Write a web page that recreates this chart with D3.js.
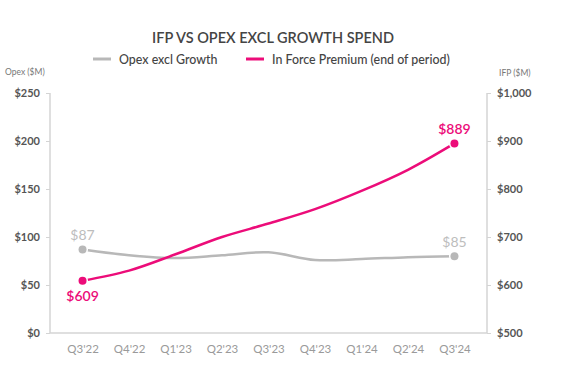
<!DOCTYPE html>
<html>
<head>
<meta charset="utf-8">
<script src="https://cdn.jsdelivr.net/npm/d3@7"></script>
<style>
	body { margin: 0; background: #fff; font-family: Lato, "Open Sans", sans-serif; }
	.axis path, .axis line { stroke: #d4d4d4; }
	.axis text { font-family: Lato, sans-serif; }
</style>
</head>
<body>
<div id="chart"></div>
<script>
'use strict';

// chart data
var quarters = ["Q3'22", "Q4'22", "Q1'23", "Q2'23", "Q3'23", "Q4'23", "Q1'24", "Q2'24", "Q3'24"];
var opex = [87, 81, 78, 81, 84, 76, 77, 79, 80];
var ifp = [609, 630, 664, 700, 728, 758, 796, 840, 895];
var opexTicks = [0, 50, 100, 150, 200, 250];
var ifpTicks = [500, 600, 700, 800, 900, 1000];
var endLabels = { opex: ["$87", "$85"], ifp: ["$609", "$889"] };

var width = 582, height = 375;
var plotLeft = 50, plotRight = 487, plotTop = 93, plotBottom = 333;
var pink = '#ec0c79', grey = '#b8b8b8';

var svg = d3.select('#chart').append('svg')
	.attr('width', width)
	.attr('height', height);

// scales
var x = d3.scalePoint().domain(quarters).range([plotLeft, plotRight]).padding(0.7);
var yOpex = d3.scaleLinear().domain([0, 250]).range([plotBottom, plotTop]);
var yIfp = d3.scaleLinear().domain([500, 1000]).range([plotBottom, plotTop]);

// title and legend
svg.append('text')
	.attr('x', 273).attr('y', 43)
	.attr('text-anchor', 'middle')
	.attr('font-size', 14.5).attr('font-weight', 600)
	.attr('fill', '#444')
	.text('IFP VS OPEX EXCL GROWTH SPEND');

var legend = [
	{ name: 'Opex excl Growth', color: grey, x: 93 },
	{ name: 'In Force Premium (end of period)', color: pink, x: 246 }
];
legend.forEach(function(d) {
	svg.append('line')
		.attr('x1', d.x).attr('x2', d.x + 18)
		.attr('y1', 59).attr('y2', 59)
		.attr('stroke', d.color).attr('stroke-width', 3);
	svg.append('text')
		.attr('x', d.x + 26).attr('y', 63.5)
		.attr('font-size', 12.4).attr('font-weight', 500)
		.attr('fill', '#444')
		.text(d.name);
});

// axis titles
svg.append('text').attr('x', 5).attr('y', 75)
	.attr('font-size', 8.5).attr('fill', '#777').text('Opex ($M)');
svg.append('text').attr('x', 499).attr('y', 76)
	.attr('font-size', 8.5).attr('fill', '#777').text('IFP ($M)');

// axes
var leftAxis = svg.append('g').attr('class', 'axis')
	.attr('transform', 'translate(' + plotLeft + ',0)')
	.call(d3.axisLeft(yOpex).tickValues(opexTicks).tickSize(4).tickPadding(6)
		.tickFormat(function(d) { return '$' + d; }));
var rightAxis = svg.append('g').attr('class', 'axis')
	.attr('transform', 'translate(' + plotRight + ',0)')
	.call(d3.axisRight(yIfp).tickValues(ifpTicks).tickSize(4).tickPadding(6)
		.tickFormat(function(d) { return '$' + d3.format(',')(d); }));
[leftAxis, rightAxis].forEach(function(g) {
	g.select('.domain').attr('d', 'M0,' + plotTop + 'V' + plotBottom).attr('stroke-width', 1.5);
	g.selectAll('text').attr('font-size', 11).attr('font-weight', 700).attr('fill', '#555');
});

var xAxis = svg.append('g').attr('class', 'axis')
	.attr('transform', 'translate(0,' + plotBottom + ')')
	.call(d3.axisBottom(x).tickSize(0).tickPadding(12));
xAxis.select('.domain').attr('d', 'M' + plotLeft + ',0H' + plotRight).attr('stroke-width', 1.5);
xAxis.selectAll('text').attr('font-size', 11.5).attr('fill', '#9a9a9a');

// lines
var opexLine = d3.line()
	.x(function(d, i) { return x(quarters[i]); })
	.y(function(d) { return yOpex(d); })
	.curve(d3.curveCatmullRom.alpha(0.5));
var ifpLine = d3.line()
	.x(function(d, i) { return x(quarters[i]); })
	.y(function(d) { return yIfp(d); })
	.curve(d3.curveCatmullRom.alpha(0.5));

svg.append('path').datum(opex)
	.attr('d', opexLine)
	.attr('fill', 'none').attr('stroke', grey).attr('stroke-width', 2.5);
svg.append('path').datum(ifp)
	.attr('d', ifpLine)
	.attr('fill', 'none').attr('stroke', pink).attr('stroke-width', 2.5);

// end point markers and labels
var last = quarters.length - 1;
var points = [
	{ q: quarters[0], y: yOpex(opex[0]), c: grey, label: endLabels.opex[0], dy: -9, fill: '#bdbdbd' },
	{ q: quarters[last], y: yOpex(opex[last]), c: grey, label: endLabels.opex[1], dy: -9, fill: '#bdbdbd' },
	{ q: quarters[0], y: yIfp(ifp[0]), c: pink, label: endLabels.ifp[0], dy: 20, fill: pink },
	{ q: quarters[last], y: yIfp(ifp[last]), c: pink, label: endLabels.ifp[1], dy: -9, fill: pink }
];

svg.selectAll('circle.pt').data(points).enter()
	.append('circle')
	.attr('class', 'pt')
	.attr('cx', function(d) { return x(d.q); })
	.attr('cy', function(d) { return d.y; })
	.attr('r', 4)
	.attr('fill', function(d) { return d.c; })
	.attr('stroke', '#fff').attr('stroke-width', 3)
	.attr('paint-order', 'stroke');

svg.selectAll('text.pt').data(points).enter()
	.append('text')
	.attr('class', 'pt')
	.attr('x', function(d) { return x(d.q); })
	.attr('y', function(d) { return d.y + d.dy; })
	.attr('text-anchor', 'middle')
	.attr('font-size', 14)
	.attr('font-weight', function(d) { return d.c === pink ? 600 : 400; })
	.attr('fill', function(d) { return d.fill; })
	.text(function(d) { return d.label; });
</script>
</body>
</html>
